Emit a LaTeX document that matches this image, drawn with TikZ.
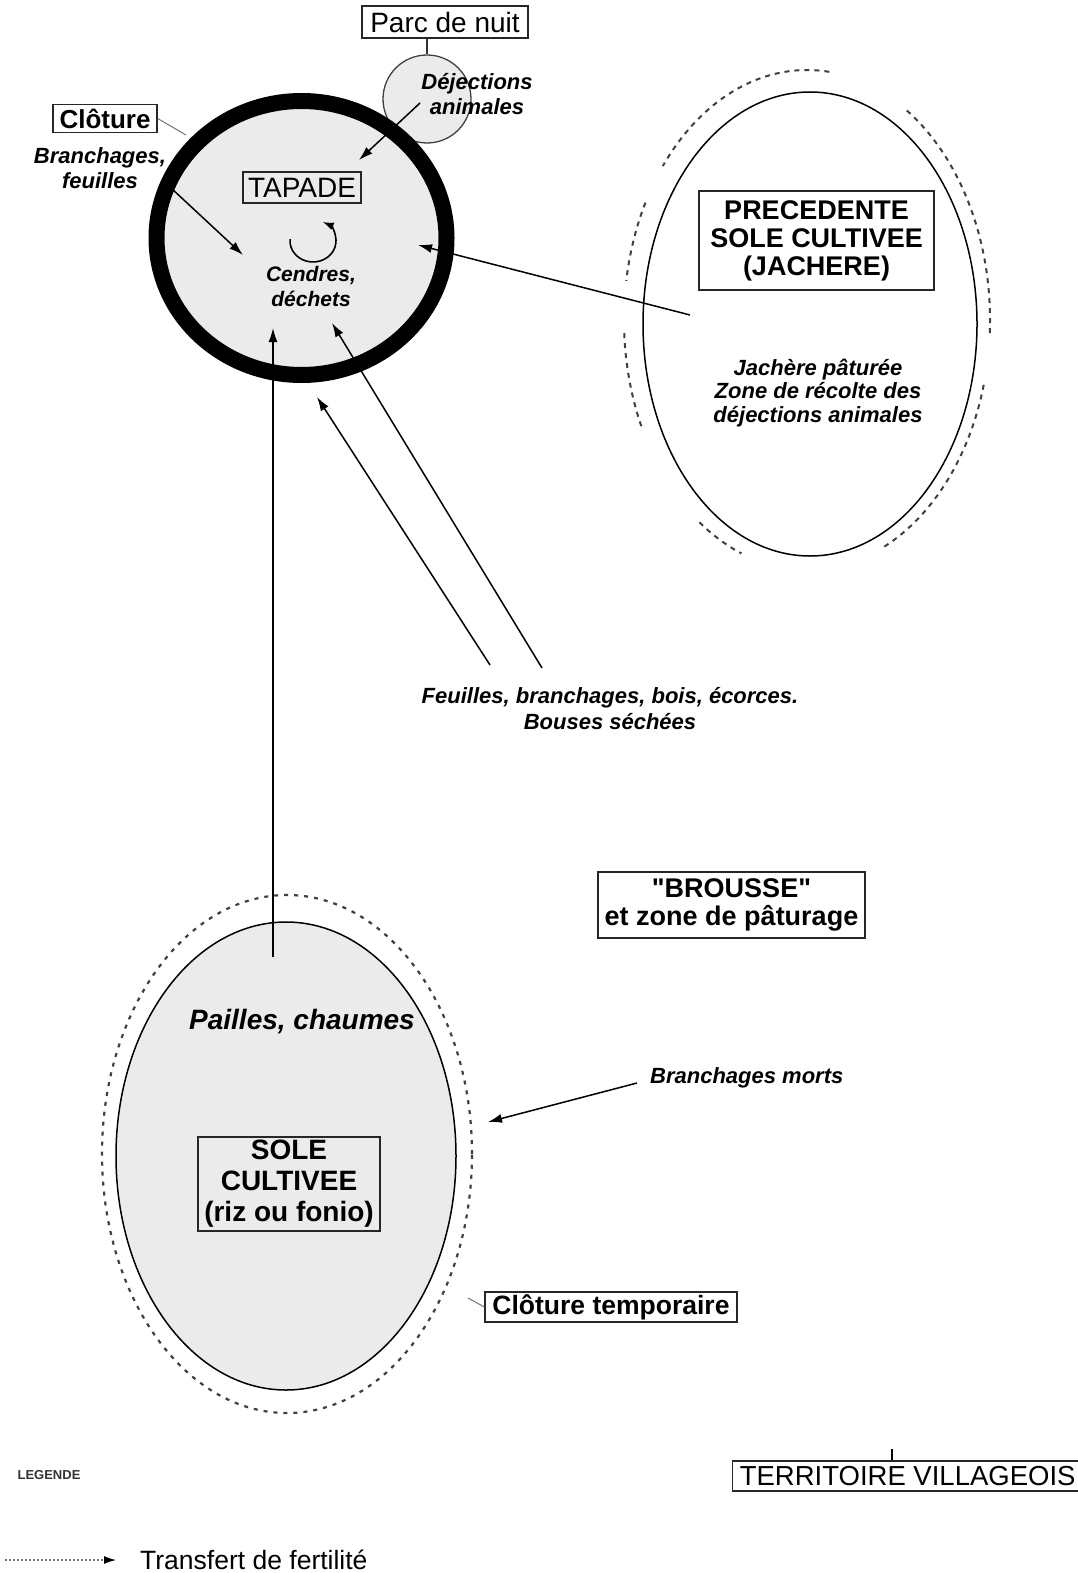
\documentclass[tikz,border=0pt]{standalone}
\usepackage{fontspec}
\setmainfont{Liberation Sans}
\usetikzlibrary{arrows.meta,shapes.geometric,calc}
\newcommand{\fsz}[2]{\fontsize{#1}{#2}\selectfont}
\tikzset{
  box/.style={draw=black!85, line width=1.3pt, inner sep=0pt, align=center},
  lab/.style={align=center, inner sep=0pt},
  arr/.style={line width=1.5pt, -{Latex[length=14pt,width=9pt]}},
  thinlink/.style={draw=black!55, line width=1pt},
  jdash/.style={draw=black!75, line width=2pt, dash pattern=on 5pt off 5pt},
  sdash/.style={draw=black!75, line width=2.2pt, dash pattern=on 4pt off 6pt},
  zonefill/.style={fill=black!8},
}
\begin{document}
\begin{tikzpicture}[x=1pt,y=-1pt]
\useasboundingbox[fill=white] (0,0) rectangle (1078,1573);

% ---------- Parc de nuit ----------
\node[box, minimum width=166pt, minimum height=32pt, font=\fsz{28}{30}] (parc) at (445,22) {Parc de nuit};
\node[circle, draw=black!75, line width=1.3pt, zonefill, minimum size=88pt, inner sep=0pt] (pc) at (427,99) {};
\draw[black!80, line width=1.3pt] (pc.north |- parc.south) -- (pc.north);

% ---------- TAPADE ----------
\node[ellipse, draw=black, line width=16pt, zonefill, minimum width=290pt, minimum height=274pt, inner sep=0pt] (tap) at (301.5,238) {};
\node[box, minimum width=118pt, minimum height=31pt, font=\fsz{28}{30}] (tapl) at (302,187.5) {TAPADE};
\node[lab, font=\bfseries\itshape\fsz{21}{25}] (cend) at (311,286) {Cendres,\\déchets};
\coordinate (cyc) at (313,241);
\draw[line width=1.6pt, -{Latex[length=11pt,width=8pt]}] (cyc) ++(175:23pt and 21pt) arc[start angle=175, end angle=425, x radius=23pt, y radius=21pt];

\node[lab, font=\bfseries\itshape\fsz{22}{25}] (dej) at (477,94) {Déjections\\animales};
\coordinate (dejA) at (420,103);
\coordinate (dejB) at (359,160);
\draw[arr] (dejA) -- (dejB);

% ---------- Cloture ----------
\node[box, minimum width=104pt, minimum height=28pt, font=\bfseries\fsz{26}{28}] (clot) at (105,118.5) {Clôture};
\coordinate (clotE) at (186,135);
\draw[thinlink] (clot.east) -- (clotE);
\node[lab, font=\bfseries\itshape\fsz{22}{25}] (bran) at (100,168) {Branchages,\\feuilles};
\coordinate (branA) at (171,188);
\coordinate (branB) at (243,255);
\draw[arr] (branA) -- (branB);

% ---------- Jachere ----------
\node[ellipse, draw=black, line width=1.5pt, minimum width=334pt, minimum height=464pt, inner sep=0pt] (jach) at (810,324) {};
\coordinate (jc) at (807,320);
\foreach \a/\b in {83/142, -3/58, -65/-15, -126/-111, 152/171, 183/206}
  \draw[jdash] (jc) ++(\a:183pt and 250pt) arc[start angle=\a, end angle=\b, x radius=183pt, y radius=250pt];
\node[box, minimum width=235pt, minimum height=99pt, font=\bfseries\fsz{27}{28}] (jbox) at (816.5,240.5) {PRECEDENTE\\SOLE CULTIVEE\\(JACHERE)};
\node[lab, font=\bfseries\itshape\fsz{22}{23.5}] (jtxt) at (818,393) {Jachère pâturée\\Zone de récolte des\\déjections animales};
\coordinate (jA) at (690,315);
\coordinate (jB) at (418,245);
\draw[arr] (jA) -- (jB);

% ---------- Brousse arrows ----------
\node[lab, font=\bfseries\itshape\fsz{22}{26}] (feuil) at (610,709) {Feuilles, branchages, bois, écorces.\\Bouses séchées};
\coordinate (dAa) at (542,668);
\coordinate (dAb) at (332,323);
\coordinate (dBa) at (490,665);
\coordinate (dBb) at (317,397);
\draw[arr] (dAa) -- (dAb);
\draw[arr] (dBa) -- (dBb);

\node[box, minimum width=267pt, minimum height=66pt, font=\bfseries\fsz{27}{28}] (brousse) at (731.5,905) {\textquotedbl BROUSSE\textquotedbl\\et zone de pâturage};

% ---------- Sole cultivee ----------
\node[ellipse, draw=black, line width=1.5pt, zonefill, minimum width=340pt, minimum height=468pt, inner sep=0pt] (sole) at (286,1156) {};
\node[ellipse, sdash, minimum width=370pt, minimum height=518pt, inner sep=0pt] (solecl) at (287,1154) {};
\coordinate (vA) at (273,957);
\coordinate (vB) at (273,328);
\draw[arr] (vA) -- (vB);
\node[lab, font=\bfseries\itshape\fsz{28}{30}] (paille) at (302,1022) {Pailles, chaumes};
\node[box, minimum width=182pt, minimum height=94pt, font=\bfseries\fsz{28}{31}] (sbox) at (289,1184) {SOLE\\CULTIVEE\\(riz ou fonio)};

\node[lab, anchor=west, font=\bfseries\itshape\fsz{22}{25}] (bmorts) at (650,1078) {Branchages morts};
\coordinate (bmA) at (637,1083);
\coordinate (bmB) at (488,1122);
\draw[arr] (bmA) -- (bmB);

\node[box, minimum width=252pt, minimum height=30pt, font=\bfseries\fsz{26.5}{28}] (clott) at (611,1307) {Clôture temporaire};
\coordinate (ctA) at (468,1298);
\draw[thinlink] (ctA) -- (clott.west);

% ---------- Territoire ----------
\node[box, anchor=west, minimum width=350pt, minimum height=30pt, font=\fsz{27.5}{30}] (terr) at (732,1476) {TERRITOIRE VILLAGEOIS};
\coordinate (tt) at (892,1449);
\draw[line width=1.3pt] (tt) -- (tt |- terr.north);

% ---------- Legend ----------
\node[lab, font=\bfseries\fsz{13}{14}, text=black!80] (leg) at (49,1475) {LEGENDE};
\coordinate (lA) at (5,1560);
\coordinate (lB) at (116,1560);
\draw[line width=1.2pt, black!55, dash pattern=on 2pt off 2pt, -{Latex[length=12pt,width=8pt,color=black]}] (lA) -- (lB);
\node[lab, anchor=west, font=\fsz{26.5}{28}] (legt) at (140,1560) {Transfert de fertilité};
\end{tikzpicture}
\end{document}
